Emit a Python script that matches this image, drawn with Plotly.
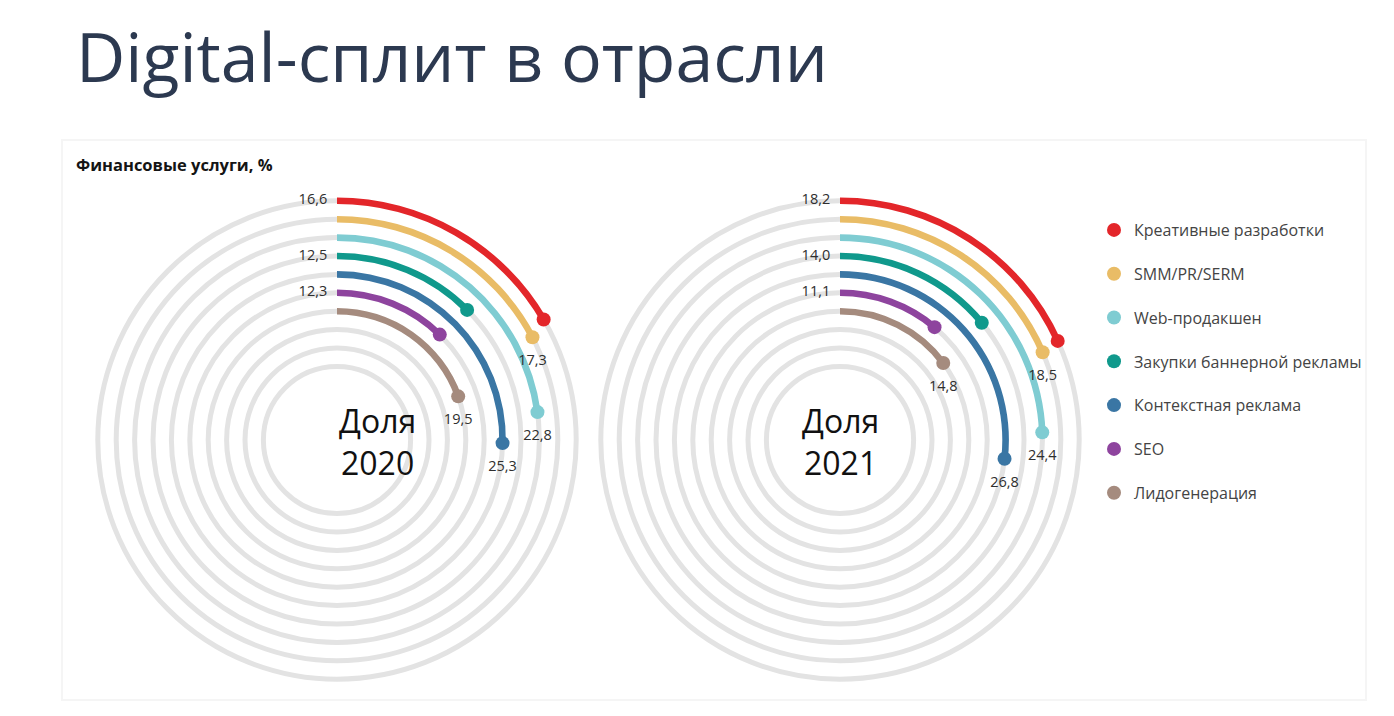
import plotly.graph_objects as go

# ---- data ----
categories = ["Креативные разработки", "SMM/PR/SERM", "Web-продакшен",
              "Закупки баннерной рекламы", "Контекстная реклама", "SEO", "Лидогенерация"]
values_2020 = [16.6, 17.3, 22.8, 12.5, 25.3, 12.3, 19.5]
values_2021 = [18.2, 18.5, 24.4, 14.0, 26.8, 11.1, 14.8]
label_at_start = [True, False, False, True, False, True, False]
years = ["2020", "2021"]
colors = ["#E3262A", "#E9BC66", "#7FCCD2", "#10998C", "#3A76A4", "#8E449E", "#A58B7E"]

ring_radii = list(range(4, 14))                         # 10 grey rings
series_ring = [13 - i for i in range(len(categories))]  # outermost = first series
R_MAX = 13.5
FULL = 100.0  # 100 % = full circle

W, H = 1394, 716
OX, OY = 8, 8          # page body margin
ring_px = 18.4
rad_px = R_MAX * ring_px
centers = [(337, 440), (840, 440)]


def px2x(px):
    return (px - OX) / W


def px2y(py):
    return 1 - (py - OY) / H


def fmt(v):
    return f"{v:.1f}".replace(".", ",")


fig = go.Figure()
layout_polars = {}
annotations = []
label_font = dict(family="Open Sans", size=14.5, color="#2E2E2E")

for k, (vals, year) in enumerate(zip([values_2020, values_2021], years)):
    pname = "polar" if k == 0 else f"polar{k+1}"
    cx, cy = centers[k]
    xc, yc = px2x(cx), px2y(cy)
    dx, dy = rad_px / W, rad_px / H
    ang = [v / FULL * 360 for v in vals]

    # arcs
    fig.add_trace(go.Barpolar(
        r=[0.36] * len(vals), base=[r - 0.18 for r in series_ring],
        theta=[a / 2 for a in ang], width=ang,
        marker=dict(color=colors, line=dict(width=0)),
        subplot=pname, showlegend=False, hoverinfo="skip"))

    # end markers (also legend entries)
    for i, cat in enumerate(categories):
        fig.add_trace(go.Scatterpolar(
            r=[series_ring[i]], theta=[ang[i]], mode="markers",
            marker=dict(size=14, color=colors[i]),
            name=cat, legendgroup=cat, showlegend=(k == 0),
            subplot=pname, hoverinfo="skip"))

    # end labels
    end_idx = [i for i in range(len(vals)) if not label_at_start[i]]
    fig.add_trace(go.Scatterpolar(
        r=[series_ring[i] for i in end_idx], theta=[ang[i] for i in end_idx],
        mode="markers+text", text=[fmt(vals[i]) for i in end_idx],
        textposition="bottom center",
        marker=dict(size=26, color="rgba(0,0,0,0)"),
        textfont=label_font,
        subplot=pname, showlegend=False, hoverinfo="skip"))

    # start labels
    st_idx = [i for i in range(len(vals)) if label_at_start[i]]
    fig.add_trace(go.Scatterpolar(
        r=[series_ring[i] for i in st_idx], theta=[0] * len(st_idx),
        mode="markers+text", text=[fmt(vals[i]) for i in st_idx],
        textposition="middle left",
        marker=dict(size=14, color="rgba(0,0,0,0)"),
        textfont=label_font,
        subplot=pname, showlegend=False, hoverinfo="skip"))

    layout_polars[pname] = dict(
        domain=dict(x=[xc - dx, xc + dx], y=[yc - dy, yc + dy]),
        bgcolor="rgba(0,0,0,0)",
        barmode="overlay",
        radialaxis=dict(range=[0, R_MAX], tickvals=ring_radii, showticklabels=False,
                        ticks="", showline=False, gridcolor="#E3E3E3", gridwidth=5),
        angularaxis=dict(rotation=90, direction="clockwise", showgrid=False,
                         showticklabels=False, ticks="", showline=False),
    )

    # centre text
    annotations.append(dict(x=xc, y=yc, xref="paper", yref="paper",
                            text=f"Доля<br>{year}", showarrow=False, yshift=-1,
                            font=dict(family="Open Sans", size=32, color="#111111")))

annotations.append(dict(x=px2x(74), y=px2y(55), xref="paper", yref="paper",
                        xanchor="left", yanchor="middle", showarrow=False,
                        text="Digital-сплит в отрасли",
                        font=dict(family="Open Sans", size=68, color="#2C3950")))
annotations.append(dict(x=px2x(74), y=px2y(165), xref="paper", yref="paper",
                        xanchor="left", yanchor="middle", showarrow=False,
                        text="<b>Финансовые услуги, %</b>",
                        font=dict(family="Open Sans", size=16.5, color="#141414")))

fig.update_layout(
    width=W, height=H, margin=dict(l=0, r=0, t=0, b=0),
    paper_bgcolor="white", plot_bgcolor="white",
    annotations=annotations,
    shapes=[dict(type="rect", xref="paper", yref="paper",
                 x0=px2x(62), x1=px2x(1366), y0=px2y(700), y1=px2y(140),
                 line=dict(color="#F5F5F5", width=2), fillcolor="rgba(0,0,0,0)",
                 layer="below")],
    legend=dict(x=px2x(1094), y=px2y(213), xanchor="left", yanchor="top",
                font=dict(family="Open Sans", size=16, color="#444444"),
                tracegroupgap=20, itemsizing="trace", bgcolor="rgba(0,0,0,0)"),
    **layout_polars,
)

fig.write_html("out.html")
